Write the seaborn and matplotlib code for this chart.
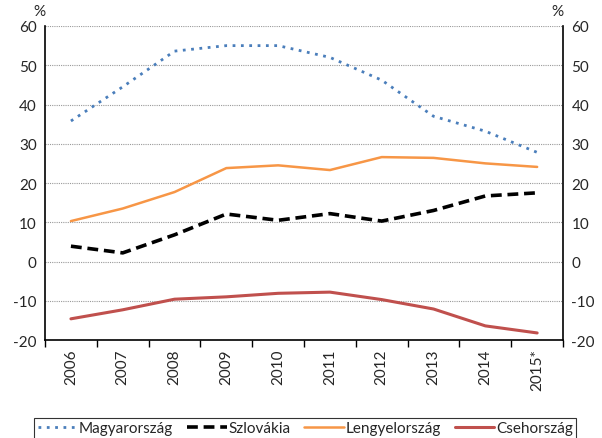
import pandas as pd
import numpy as np
import matplotlib
matplotlib.use("Agg")
import matplotlib.pyplot as plt
import seaborn as sns
from matplotlib.ticker import MultipleLocator

# data
years = ["2006", "2007", "2008", "2009", "2010", "2011", "2012", "2013", "2014", "2015*"]
magyarorszag = [35.8, 44.5, 53.6, 55.0, 55.0, 52.0, 46.2, 37.0, 33.2, 27.8]
szlovakia = [3.9, 2.2, 6.8, 12.1, 10.5, 12.2, 10.3, 13.0, 16.7, 17.5]
lengyelorszag = [10.3, 13.5, 17.7, 23.8, 24.5, 23.3, 26.6, 26.4, 25.0, 24.1]
csehorszag = [-14.6, -12.3, -9.6, -9.0, -8.1, -7.8, -9.7, -12.1, -16.4, -18.2]

series = {
    "Magyarország": magyarorszag,
    "Szlovákia": szlovakia,
    "Lengyelország": lengyelorszag,
    "Csehország": csehorszag,
}
styles = {
    "Magyarország": dict(color="#4a7ebb", lw=2.0, ls=(0, (1, 2))),
    "Szlovákia": dict(color="black", lw=2.6, ls=(0, (3, 1.6))),
    "Lengyelország": dict(color="#f79646", lw=1.8, ls="-"),
    "Csehország": dict(color="#c0504d", lw=2.2, ls="-"),
}

sns.set_style("white")
plt.rcParams["font.family"] = ["Lato", "DejaVu Sans"]
plt.rcParams["axes.unicode_minus"] = False

fig = plt.figure(figsize=(6.02, 4.39), dpi=100)
ax = fig.add_axes([0.0748, 0.2232, 0.8605, 0.7153])

for name, vals in series.items():
    df = pd.DataFrame({"x": np.arange(len(years)), "y": vals})
    st = styles[name]
    sns.lineplot(data=df, x="x", y="y", ax=ax, color=st["color"], linewidth=st["lw"],
                 linestyle=st["ls"], label=name)

ax.set_xlim(-0.5, len(years) - 0.5)
ax.set_ylim(-20, 60)
ax.yaxis.set_major_locator(MultipleLocator(10))
ax.grid(axis="y", color="#9a9a9a", linestyle=(0, (1, 1)), linewidth=0.8)
ax.set_axisbelow(True)

ax.set_xticks(np.arange(len(years)))
ax.set_xticklabels(years, rotation=90, fontsize=11)
ax.set_xticks(np.arange(len(years) + 1) - 0.5, minor=True)
ax.tick_params(axis="x", which="major", length=0, pad=6)
ax.tick_params(axis="x", which="minor", length=5, width=1, color="black", direction="out", bottom=True)
ax.tick_params(axis="y", length=0, labelsize=11, labelleft=True, labelright=True, pad=6)
ax.set_xlabel("")
ax.set_ylabel("")

for side in ["left", "right", "bottom"]:
    ax.spines[side].set_color("black")
    ax.spines[side].set_linewidth(1.2)
ax.spines["top"].set_visible(False)

ax.text(0.0, 1.025, "%", transform=ax.transAxes, ha="right", va="bottom", fontsize=11)
ax.text(1.0, 1.025, "%", transform=ax.transAxes, ha="right", va="bottom", fontsize=11)

handles, labels = ax.get_legend_handles_labels()
ax.get_legend().remove()
leg = fig.legend(handles, labels, loc="lower center", bbox_to_anchor=(0.507, -0.02), ncol=4,
                 frameon=True, fancybox=False, fontsize=11, handlelength=2.6, handletextpad=0.1,
                 columnspacing=0.9, borderpad=0.25, edgecolor="black")
leg.get_frame().set_linewidth(0.8)

fig.savefig("out.png", dpi=100)
